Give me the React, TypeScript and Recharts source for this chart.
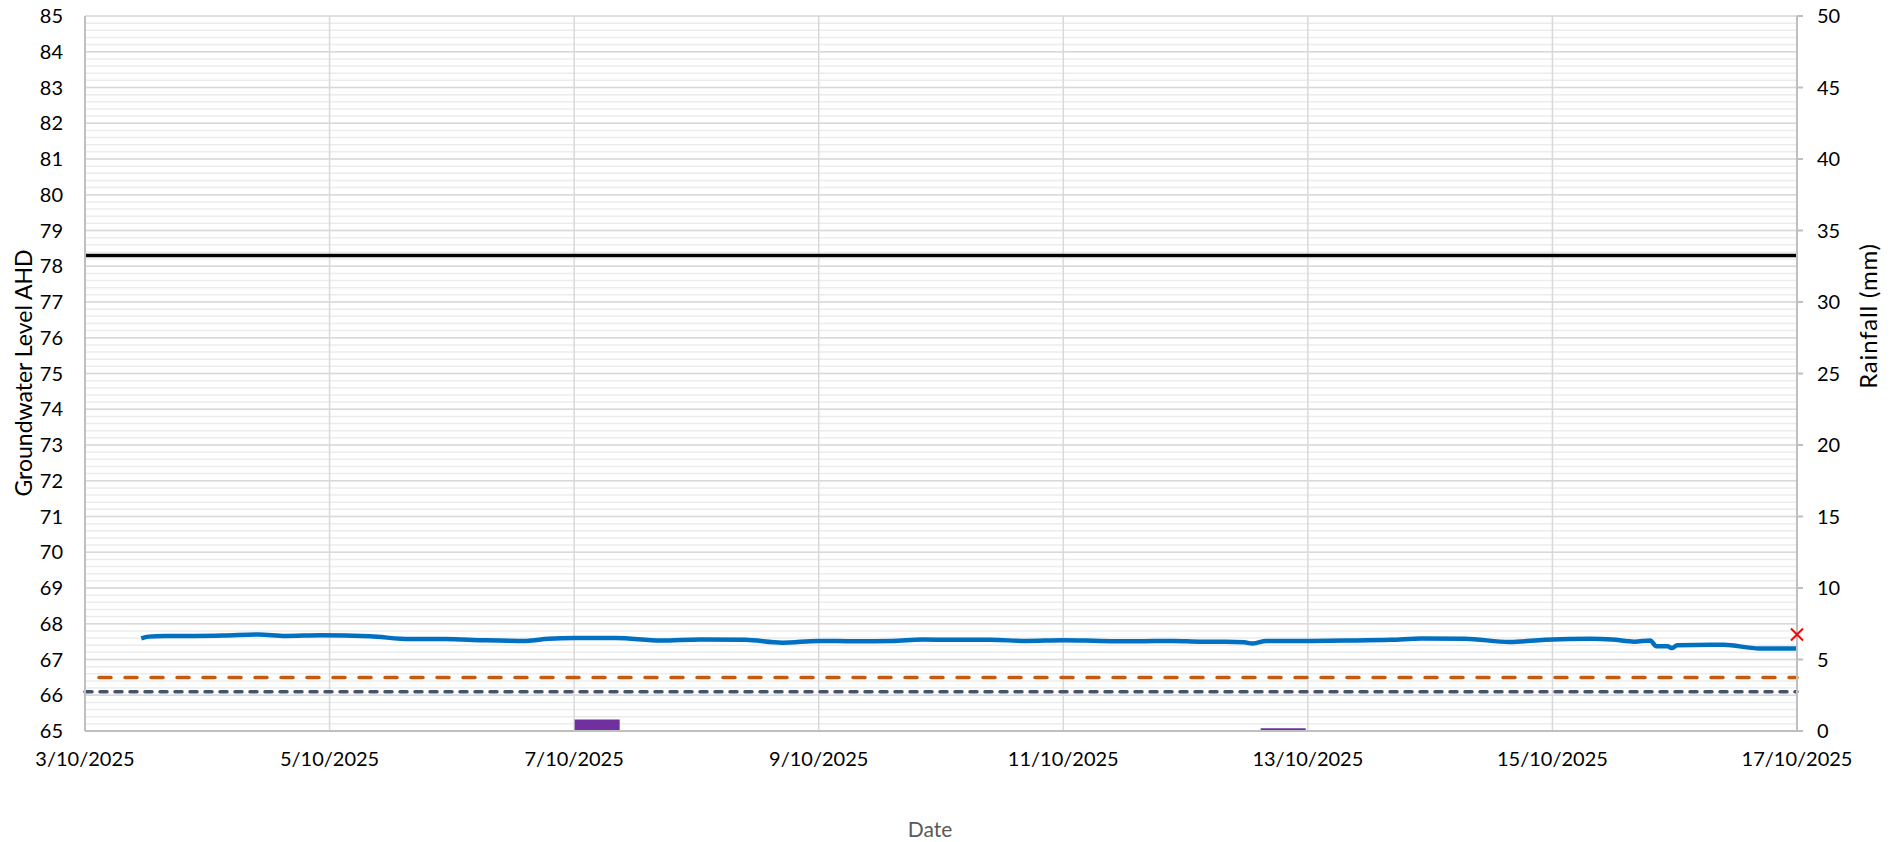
import React from 'react'
import {
  ComposedChart, Line, Bar, Scatter, XAxis, YAxis, CartesianGrid, ReferenceLine,
} from 'recharts'

// days since 3/10/2025 00:00
const dateTicks = [0, 2, 4, 6, 8, 10, 12, 14]
const dateLabels = ['3/10/2025', '5/10/2025', '7/10/2025', '9/10/2025', '11/10/2025', '13/10/2025', '15/10/2025', '17/10/2025']

const levelDays = [
  0.46, 0.52, 0.65, 0.9, 1.13, 1.42, 1.64, 1.93, 2.33, 2.66, 2.95, 3.25, 3.61, 3.79, 4.0, 4.34, 4.71,
  5.03, 5.4, 5.7, 6.0, 6.3, 6.6, 6.85, 7.1, 7.4, 7.7, 8.0, 8.3, 8.6, 8.9, 9.12, 9.33, 9.48, 9.55,
  9.66, 9.98, 10.31, 10.68, 10.93, 11.29, 11.65, 11.94, 12.31, 12.49, 12.67, 12.8, 12.85, 12.94,
  12.98, 13.02, 13.4, 13.69, 14.0,
]
const levelValues = [
  67.59, 67.64, 67.66, 67.66, 67.67, 67.7, 67.66, 67.68, 67.65, 67.57, 67.57, 67.54, 67.52, 67.58, 67.6, 67.6, 67.53,
  67.56, 67.55, 67.47, 67.52, 67.51, 67.52, 67.56, 67.55, 67.55, 67.52, 67.54, 67.52, 67.51, 67.52, 67.5, 67.5, 67.48, 67.45,
  67.52, 67.52, 67.53, 67.55, 67.59, 67.58, 67.49, 67.55, 67.58, 67.56, 67.5, 67.53, 67.37, 67.37,
  67.32, 67.4, 67.41, 67.31, 67.31,
]

// rainfall totals, centred on their reporting period
const rainDays = [4.185, 9.795]
const rainValues = [0.8, 0.2]

const manualDays = [14]
const manualValues = [67.7]

const upperLevel = 78.3
const triggerLevel = 66.5
const lowerLevel = 66.1

const leftTicks = Array.from({ length: 21 }, (_, i) => 65 + i)
const minorTicks = Array.from({ length: 101 }, (_, i) => +(65 + i * 0.2).toFixed(1))
const rightTicks = [0, 5, 10, 15, 20, 25, 30, 35, 40, 45, 50]

const levelData = levelDays.map((d, i) => ({ day: d, level: levelValues[i] }))
const rainData = rainDays.map((d, i) => ({ day: d, rain: rainValues[i] }))
const manualData = manualDays.map((d, i) => ({ day: d, manual: manualValues[i] }))

const font = 'Lato, "Open Sans", sans-serif'
const tickStyle = { fill: '#000', fontSize: 20, fontFamily: font }

const RedCross = (props: any) => {
  const { cx, cy } = props
  const r = 6
  return (
    <g stroke="#ff0000" strokeWidth={2}>
      <line x1={cx - r} y1={cy - r} x2={cx + r} y2={cy + r} />
      <line x1={cx - r} y1={cy + r} x2={cx + r} y2={cy - r} />
    </g>
  )
}

export default function App() {
  return (
    <div style={{ position: 'absolute', left: 0, top: 0, width: 1895, height: 842, background: '#fff', fontFamily: font }}>
      <ComposedChart
        width={1895}
        height={842}
        data={rainData}
        margin={{ top: 16, right: 0, bottom: 81, left: 0 }}
      >
        <CartesianGrid
          xAxisId="main"
          yAxisId="left"
          vertical={false}
          horizontalValues={minorTicks}
          stroke="#ececec"
          strokeWidth={1.5}
        />
        <CartesianGrid xAxisId="main" yAxisId="left" stroke="#d9d9d9" strokeWidth={1.5} />
        <XAxis
          xAxisId="main"
          dataKey="day"
          type="number"
          domain={[0, 14]}
          ticks={dateTicks}
          tickFormatter={(v: number) => dateLabels[dateTicks.indexOf(v)]}
          stroke="#bfbfbf"
          strokeWidth={2}
          tickLine={false}
          tickMargin={15}
          height={30}
          tick={tickStyle}
          interval={0}
        />
        <XAxis xAxisId="fine" dataKey="day" type="number" domain={[0, 14]} height={0} hide />
        <YAxis
          yAxisId="left"
          domain={[65, 85]}
          ticks={leftTicks}
          type="number"
          width={85}
          stroke="#bfbfbf"
          strokeWidth={2}
          tickLine={false}
          tickMargin={16}
          tick={tickStyle}
          interval={0}
        />
        <YAxis
          yAxisId="right"
          orientation="right"
          domain={[0, 50]}
          ticks={rightTicks}
          type="number"
          width={98}
          stroke="#bfbfbf"
          strokeWidth={2}
          tickSize={6}
          tickLine={{ stroke: '#bfbfbf' }}
          tickMargin={14}
          tick={{ ...tickStyle, textAnchor: 'start' }}
          interval={0}
        />
        <Bar xAxisId="main" yAxisId="right" dataKey="rain" fill="#7030a0" barSize={45} isAnimationActive={false} />
        <ReferenceLine xAxisId="main" yAxisId="left" y={upperLevel} stroke="#000" strokeWidth={3.5} />
        <ReferenceLine xAxisId="main" yAxisId="left" y={triggerLevel} stroke="#c55a11" strokeWidth={3.5} strokeDasharray="12 14" strokeLinecap="round" strokeDashoffset={-14} />
        <ReferenceLine xAxisId="main" yAxisId="left" y={lowerLevel} stroke="#44546a" strokeWidth={3.5} strokeDasharray="7 8" strokeLinecap="round" />
        <Line
          xAxisId="fine"
          yAxisId="left"
          data={levelData}
          dataKey="level"
          type="monotone"
          stroke="#0070c0"
          strokeWidth={4.5}
          dot={false}
          isAnimationActive={false}
        />
        <Scatter
          xAxisId="main"
          yAxisId="left"
          data={manualData}
          dataKey="manual"
          shape={<RedCross />}
          isAnimationActive={false}
        />
      </ComposedChart>
      <div style={{ position: 'absolute', left: 23, top: 373, transform: 'translate(-50%, -50%) rotate(-90deg)', whiteSpace: 'nowrap', fontSize: 23, color: '#000' }}>
        Groundwater Level AHD
      </div>
      <div style={{ position: 'absolute', left: 1867, top: 316, transform: 'translate(-50%, -50%) rotate(-90deg)', whiteSpace: 'nowrap', fontSize: 24, letterSpacing: 0.8, color: '#000' }}>
        Rainfall (mm)
      </div>
      <div style={{ position: 'absolute', left: 930, top: 828, transform: 'translate(-50%, -50%)', whiteSpace: 'nowrap', fontSize: 21, color: '#595959' }}>
        Date
      </div>
    </div>
  )
}
